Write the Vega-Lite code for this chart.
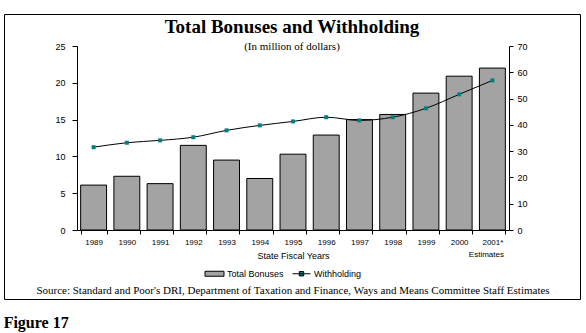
{
  "$schema": "https://vega.github.io/schema/vega-lite/v6.json",
  "width": 576,
  "height": 285,
  "autosize": {"type": "none"},
  "padding": {"left": 4, "top": 14, "right": 6, "bottom": 34},
  "background": "white",
  "title": {
    "text": "Total Bonuses and Withholding",
    "subtitle": "(In million of dollars)",
    "anchor": "middle",
    "frame": "group",
    "offset": -38,
    "font": "Liberation Serif",
    "fontSize": 19,
    "fontWeight": "bold",
    "color": "black",
    "subtitleFont": "Liberation Serif",
    "subtitleFontSize": 11,
    "subtitleColor": "black",
    "subtitlePadding": 4
  },
  "config": {
    "view": {"stroke": "black", "strokeWidth": 1},
    "axis": {"grid": false, "domainColor": "black", "tickColor": "black", "labelColor": "black", "titleColor": "black", "domainWidth": 1, "tickWidth": 1, "zindex": 1}
  },
  "data": {
    "values": [
      {"year": "1989", "bonuses": 6.1, "withholding": 31.5},
      {"year": "1990", "bonuses": 7.3, "withholding": 33.2},
      {"year": "1991", "bonuses": 6.3, "withholding": 34.1},
      {"year": "1992", "bonuses": 11.5, "withholding": 35.3},
      {"year": "1993", "bonuses": 9.5, "withholding": 37.9},
      {"year": "1994", "bonuses": 7.0, "withholding": 39.8},
      {"year": "1995", "bonuses": 10.3, "withholding": 41.3},
      {"year": "1996", "bonuses": 12.9, "withholding": 42.9},
      {"year": "1997", "bonuses": 15.0, "withholding": 41.7},
      {"year": "1998", "bonuses": 15.7, "withholding": 42.9},
      {"year": "1999", "bonuses": 18.6, "withholding": 46.3},
      {"year": "2000", "bonuses": 20.9, "withholding": 51.6},
      {"year": "2001*", "bonuses": 22.0, "withholding": 56.9}
    ]
  },
  "layer": [
    {
      "layer": [
        {
          "mark": {"type": "bar", "stroke": "black", "strokeWidth": 1},
          "encoding": {
            "x": {
              "field": "year",
              "type": "ordinal",
              "sort": null,
              "scale": {"range": [73, 505], "paddingInner": 0.22, "paddingOuter": 0.11},
              "axis": {
                "title": "State Fiscal Years",
                "orient": "bottom",
                "offset": {"expr": "-69"},
                "tickBand": "extent",
                "tickSize": 4,
                "labelAngle": 0,
                "labelFont": "Liberation Sans",
                "labelFontSize": 8,
                "labelPadding": 4,
                "titleFont": "Liberation Sans",
                "titleFontSize": 9,
                "titleFontWeight": "normal",
                "titlePadding": 5
              }
            },
            "y": {
              "field": "bonuses",
              "type": "quantitative",
              "scale": {"domain": [0, 25], "range": [216, 32], "nice": false, "zero": true},
              "axis": {
                "title": null,
                "orient": "left",
                "offset": {"expr": "-73"},
                "values": [0, 5, 10, 15, 20, 25],
                "tickSize": 5,
                "labelPadding": 7,
                "labelFont": "Liberation Sans",
                "labelFontSize": 9
              }
            },
            "color": {
              "datum": "Total Bonuses",
              "type": "nominal",
              "scale": {"domain": ["Total Bonuses", "Withholding"], "range": ["#a3a3a3", "#008080"]},
              "legend": {
                "title": null,
                "orient": "none",
                "legendX": 200,
                "legendY": 249,
                "direction": "horizontal",
                "labelFont": "Liberation Sans",
                "labelFontSize": 9,
                "labelColor": "black",
                "symbolSize": 400,
                "symbolType": {"expr": "datum.value === 'Total Bonuses' ? 'M-0.95,-0.25H0.95V0.25H-0.95Z' : 'M-0.9,0H0.9M-0.22,-0.22H0.22V0.22H-0.22Z'"},
                "symbolStrokeWidth": 1,
                "labelOffset": 2,
                "columnPadding": 6,
                "padding": 0
              }
            }
          }
        },
        {
          "data": {"values": [{"note": "Estimates"}]},
          "mark": {"type": "text", "font": "Liberation Sans", "fontSize": 8, "color": "black", "baseline": "middle", "dx": -6},
          "encoding": {
            "x": {"datum": "2001*", "type": "ordinal"},
            "y": {"datum": -3.4, "type": "quantitative"},
            "text": {"field": "note"}
          }
        },
        {
          "data": {"values": [{"source": "Source: Standard and Poor's DRI, Department of Taxation and Finance, Ways and Means Committee Staff Estimates"}]},
          "mark": {"type": "text", "font": "Liberation Serif", "fontSize": 11, "color": "black", "baseline": "middle"},
          "encoding": {
            "x": {"datum": "1995", "type": "ordinal"},
            "y": {"datum": -8.3, "type": "quantitative"},
            "text": {"field": "source"}
          }
        },
        {
          "data": {"values": [{"label": "Figure 17"}]},
          "mark": {"type": "text", "font": "Liberation Serif", "fontSize": 16, "fontWeight": "bold", "color": "black", "baseline": "middle", "align": "left", "dx": -77},
          "encoding": {
            "x": {"datum": "1989", "type": "ordinal", "bandPosition": 0},
            "y": {"datum": -12.6, "type": "quantitative"},
            "text": {"field": "label"}
          }
        }
      ]
    },
    {
      "layer": [
        {
          "mark": {"type": "line", "color": "black", "strokeWidth": 1, "interpolate": "monotone"},
          "encoding": {
            "x": {"field": "year", "type": "ordinal", "sort": null},
            "y": {
              "field": "withholding",
              "type": "quantitative",
              "scale": {"domain": [0, 70], "range": [216, 32], "nice": false, "zero": true},
              "axis": {
                "title": null,
                "orient": "right",
                "offset": {"expr": "-71"},
                "values": [0, 10, 20, 30, 40, 50, 60, 70],
                "tickSize": 4,
                "labelPadding": 4,
                "labelFont": "Liberation Sans",
                "labelFontSize": 9
              }
            }
          }
        },
        {
          "mark": {"type": "point", "shape": "square", "filled": true, "size": 16, "opacity": 1},
          "encoding": {
            "x": {"field": "year", "type": "ordinal", "sort": null},
            "y": {"field": "withholding", "type": "quantitative"},
            "color": {"datum": "Withholding", "type": "nominal"}
          }
        }
      ]
    }
  ],
  "resolve": {"scale": {"y": "independent"}, "axis": {"y": "independent"}}
}
